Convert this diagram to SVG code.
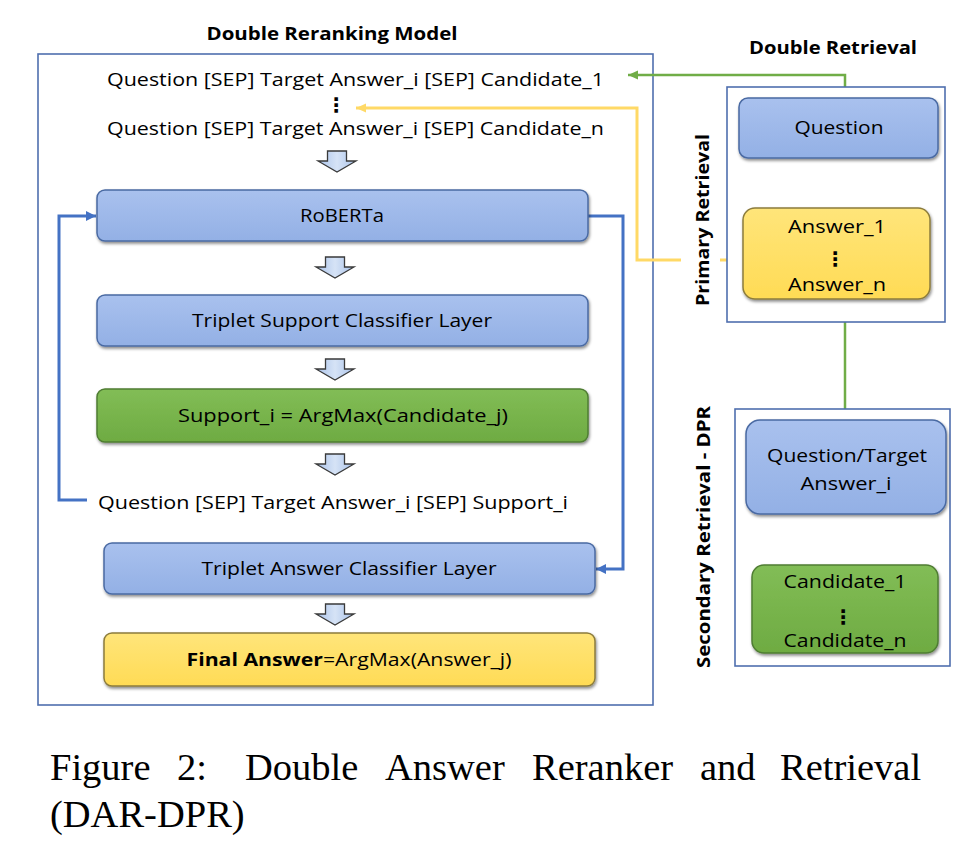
<svg xmlns="http://www.w3.org/2000/svg" width="960" height="854" viewBox="0 0 960 854">
<defs>
<linearGradient id="gBlue" x1="0" y1="0" x2="0" y2="1">
<stop offset="0" stop-color="#a9c1ee"/><stop offset="1" stop-color="#93b0e5"/>
</linearGradient>
<linearGradient id="gGreen" x1="0" y1="0" x2="0" y2="1">
<stop offset="0" stop-color="#82bd56"/><stop offset="1" stop-color="#6eab42"/>
</linearGradient>
<linearGradient id="gYellow" x1="0" y1="0" x2="0" y2="1">
<stop offset="0" stop-color="#ffe57a"/><stop offset="1" stop-color="#ffdb55"/>
</linearGradient>
<linearGradient id="gArrow" x1="0" y1="0" x2="1" y2="0">
<stop offset="0" stop-color="#aac3ea"/><stop offset="0.5" stop-color="#d6e3f6"/><stop offset="1" stop-color="#aac3ea"/>
</linearGradient>
<filter id="sh" x="-5%" y="-10%" width="110%" height="130%">
<feDropShadow dx="1" dy="2" stdDeviation="1.5" flood-color="#000" flood-opacity="0.45"/>
</filter>
<marker id="mBlue" markerUnits="userSpaceOnUse" markerWidth="12" markerHeight="12" refX="10" refY="6" orient="auto">
<path d="M0,1 L10,6 L0,11 Z" fill="#4472c4"/>
</marker>
<marker id="mGreen" markerUnits="userSpaceOnUse" markerWidth="12" markerHeight="12" refX="10" refY="6" orient="auto">
<path d="M0,1.5 L10,6 L0,10.5 Z" fill="#70ad47"/>
</marker>
<marker id="mYellow" markerUnits="userSpaceOnUse" markerWidth="12" markerHeight="12" refX="10" refY="6" orient="auto">
<path d="M0,1.5 L10,6 L0,10.5 Z" fill="#ffd966"/>
</marker>
<path id="blockArrow" d="M-9.5,0 H9.5 V10 H19 L0,21 L-19,10 H-9.5 Z" fill="url(#gArrow)" stroke="#3a3a3a" stroke-width="1.3" stroke-linejoin="miter"/>
</defs>
<style>
.frame{fill:#fff;stroke:#4f6fae;stroke-width:1.6}
.bBlue{fill:url(#gBlue);stroke:#4a6aa3;stroke-width:1.5;filter:url(#sh)}
.bGreen{fill:url(#gGreen);stroke:#4f7d33;stroke-width:1.5;filter:url(#sh)}
.bYellow{fill:url(#gYellow);stroke:#8c7c3c;stroke-width:1.5;filter:url(#sh)}
.t{font-family:"Open Sans","Noto Sans","Liberation Sans",sans-serif;font-size:18px;fill:#000}
.c{text-anchor:middle}
.b{font-weight:bold}
.dots{font-family:"DejaVu Sans",sans-serif;font-size:20px;font-weight:bold;text-anchor:middle;fill:#000}
.cap{font-family:"Liberation Serif","Times New Roman",serif;font-size:38.5px;fill:#000}
.lb{fill:none;stroke:#4472c4;stroke-width:3}
.lg{fill:none;stroke:#70ad47;stroke-width:2.5}
.ly{fill:none;stroke:#ffd966;stroke-width:3}
</style>
<rect width="960" height="854" fill="#fff"/>

<g id="reranking-model">
<text class="t c b" x="332" y="40" textLength="251" lengthAdjust="spacingAndGlyphs">Double Reranking Model</text>
<rect class="frame" x="38" y="54" width="615" height="651"/>
</g>

<g id="double-retrieval">
<text class="t c b" x="833" y="54" textLength="168" lengthAdjust="spacingAndGlyphs">Double Retrieval</text>
</g>

<g id="connectors">
<path class="lg" d="M845,87 V75 H628" marker-end="url(#mGreen)"/>
<path class="ly" d="M727,260 H720 M681,260 H637 V108 H356" marker-end="url(#mYellow)"/>
<path class="lg" d="M845,322 V409"/>
<path class="lb" d="M87,500 H59 V216 H96" marker-end="url(#mBlue)"/>
<path class="lb" d="M588,216 H623 V569 H596" marker-end="url(#mBlue)"/>
<use href="#blockArrow" x="337" y="151"/>
<use href="#blockArrow" x="335" y="257"/>
<use href="#blockArrow" x="335" y="359"/>
<use href="#blockArrow" x="335" y="454"/>
<use href="#blockArrow" x="335" y="604"/>
<use href="#blockArrow" x="840" y="172"/>
<use href="#blockArrow" x="848" y="529"/>
</g>

<g id="input-triplets">
<text class="t" x="107" y="86" textLength="497" lengthAdjust="spacingAndGlyphs">Question [SEP] Target Answer_i [SEP] Candidate_1</text>
<text class="dots" x="336" y="112">⋮</text>
<text class="t" x="107" y="135" textLength="497" lengthAdjust="spacingAndGlyphs">Question [SEP] Target Answer_i [SEP] Candidate_n</text>
</g>

<g id="roberta">
<rect class="bBlue" x="97" y="190" width="491" height="51" rx="8"/>
<text class="t c" x="342" y="222" textLength="84" lengthAdjust="spacingAndGlyphs">RoBERTa</text>
</g>

<g id="triplet-support">
<rect class="bBlue" x="97" y="295" width="491" height="51" rx="8"/>
<text class="t c" x="342" y="327" textLength="300" lengthAdjust="spacingAndGlyphs">Triplet Support Classifier Layer</text>
</g>

<g id="support-argmax">
<rect class="bGreen" x="97" y="389" width="491" height="53" rx="8"/>
<text class="t c" x="343" y="422" textLength="330" lengthAdjust="spacingAndGlyphs">Support_i = ArgMax(Candidate_j)</text>
</g>

<g id="support-triplet">
<text class="t" x="98" y="509" textLength="470" lengthAdjust="spacingAndGlyphs">Question [SEP] Target Answer_i [SEP] Support_i</text>
</g>

<g id="triplet-answer">
<rect class="bBlue" x="104" y="543" width="491" height="51" rx="8"/>
<text class="t c" x="349" y="575" textLength="295" lengthAdjust="spacingAndGlyphs">Triplet Answer Classifier Layer</text>
</g>

<g id="final-answer">
<rect class="bYellow" x="104" y="633" width="491" height="53" rx="8"/>
<text class="t c" x="349" y="666" textLength="325" lengthAdjust="spacingAndGlyphs"><tspan class="b">Final Answer</tspan>=ArgMax(Answer_j)</text>
</g>

<g id="primary-retrieval">
<rect class="frame" x="727" y="87" width="218" height="235"/>
<text class="t c b" transform="translate(709,220) rotate(-90)" textLength="172" lengthAdjust="spacingAndGlyphs">Primary Retrieval</text>
</g>

<g id="question">
<rect class="bBlue" x="739" y="98" width="199" height="60" rx="9"/>
<text class="t c" x="839" y="134" textLength="89" lengthAdjust="spacingAndGlyphs">Question</text>
</g>

<g id="answers">
<rect class="bYellow" x="743" y="208" width="187" height="91" rx="12"/>
<text class="t c" x="837" y="233" textLength="98" lengthAdjust="spacingAndGlyphs">Answer_1</text>
<text class="dots" x="835" y="266">⋮</text>
<text class="t c" x="837" y="291" textLength="98" lengthAdjust="spacingAndGlyphs">Answer_n</text>
</g>

<g id="secondary-retrieval">
<rect class="frame" x="735" y="409" width="215" height="257"/>
<text class="t c b" transform="translate(710,537) rotate(-90)" textLength="262" lengthAdjust="spacingAndGlyphs">Secondary Retrieval - DPR</text>
</g>

<g id="question-target">
<rect class="bBlue" x="746" y="420" width="200" height="94" rx="14"/>
<text class="t c" x="847" y="462" textLength="160" lengthAdjust="spacingAndGlyphs">Question/Target</text>
<text class="t c" x="846" y="490" textLength="91" lengthAdjust="spacingAndGlyphs">Answer_i</text>
</g>

<g id="candidates">
<rect class="bGreen" x="752" y="565" width="186" height="88" rx="12"/>
<text class="t c" x="845" y="588" textLength="123" lengthAdjust="spacingAndGlyphs">Candidate_1</text>
<text class="dots" x="843" y="624">⋮</text>
<text class="t c" x="845" y="647" textLength="123" lengthAdjust="spacingAndGlyphs">Candidate_n</text>
</g>

<g id="caption">
<text class="cap" y="780"><tspan x="50">Figure</tspan><tspan x="177">2:</tspan><tspan x="245">Double</tspan><tspan x="385">Answer</tspan><tspan x="532">Reranker</tspan><tspan x="700">and</tspan><tspan x="780">Retrieval</tspan></text>
<text class="cap" x="50" y="827">(DAR-DPR)</text>
</g>
</svg>
